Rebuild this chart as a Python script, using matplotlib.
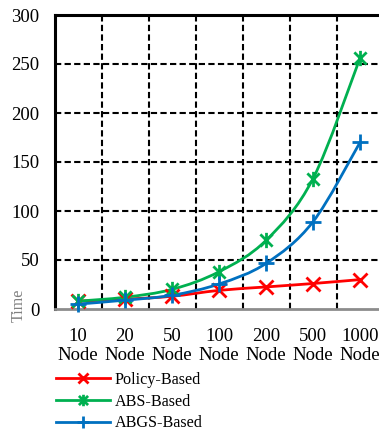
import numpy as np
import matplotlib
matplotlib.use("Agg")
import matplotlib.pyplot as plt
from matplotlib.path import Path
from matplotlib.patches import PathPatch
from matplotlib.lines import Line2D

categories = ["10\nNode", "20\nNode", "50\nNode", "100\nNode", "200\nNode", "500\nNode", "1000\nNode"]
policy_based = [8, 10, 13, 19, 22.5, 26, 30]
abs_based = [8, 12, 20, 38, 70, 133, 256]
abgs_based = [5, 9, 14, 25.5, 46.5, 89, 170]

# star marker: a cross with a vertical bar through it
star = Path([(-1, -1), (1, 1), (-1, 1), (1, -1), (0, -1.25), (0, 1.25)],
            [Path.MOVETO, Path.LINETO, Path.MOVETO, Path.LINETO, Path.MOVETO, Path.LINETO])

series = [
    ("Policy-Based", policy_based, "#FF0000", "x", 10),
    ("ABS-Based", abs_based, "#00B050", star, 11),
    ("ABGS-Based", abgs_based, "#0070C0", "+", 11),
]

plt.rcParams["font.family"] = ["Liberation Serif", "DejaVu Serif"]

fig = plt.figure(figsize=(3.79, 4.32), dpi=100)
ax = fig.add_axes([54.5 / 379, 1 - 309 / 432, 329 / 379, 294 / 432])


def smooth_path(xs, ys):
    """Catmull-Rom curve through the points, expressed as cubic Bezier segments."""
    pts = np.column_stack([xs, ys]).astype(float)
    n = len(pts)
    verts = [pts[0]]
    codes = [Path.MOVETO]
    for i in range(n - 1):
        p0 = pts[i - 1] if i > 0 else pts[i]
        p1 = pts[i]
        p2 = pts[i + 1]
        p3 = pts[i + 2] if i + 2 < n else pts[i + 1]
        c1 = p1 + (p2 - p0) / 6.0
        c2 = p2 - (p3 - p1) / 6.0
        verts += [c1, c2, p2]
        codes += [Path.CURVE4] * 3
    return Path(verts, codes)


x = np.arange(len(categories))
handles = []
for label, vals, color, marker, ms in series:
    patch = PathPatch(smooth_path(x, vals), facecolor="none", edgecolor=color,
                      lw=2.0, zorder=3, capstyle="round", joinstyle="round")
    ax.add_patch(patch)
    ax.plot(x, vals, linestyle="none", marker=marker, color=color,
            markersize=ms, markeredgewidth=2.0, zorder=4, clip_on=False)
    handles.append(Line2D([], [], color=color, lw=2.0, marker=marker,
                          markersize=ms * 0.75, markeredgewidth=2.0, label=label))

ax.set_xlim(-0.5, len(categories) - 0.5)
ax.set_ylim(0, 300)
ax.set_yticks(np.arange(0, 301, 50))
ax.set_xticks(x)
ax.set_xticklabels(categories, fontsize=13.5, linespacing=1.15)
ax.tick_params(axis="y", labelsize=13.5, length=0, pad=11)
ax.tick_params(axis="x", length=0, pad=14)

# dashed grid on category boundaries and value steps
for b in np.arange(0.5, len(categories) - 0.5, 1.0):
    ax.axvline(b, color="black", lw=1.5, ls=(0, (3, 1.6)), zorder=1)
for yv in np.arange(50, 300, 50):
    ax.axhline(yv, color="black", lw=1.5, ls=(0, (3, 1.6)), zorder=1)

for side in ["left", "top"]:
    ax.spines[side].set_linewidth(2.2)
    ax.spines[side].set_color("black")
ax.spines["right"].set_visible(False)
ax.spines["bottom"].set_linewidth(2.0)
ax.spines["bottom"].set_color("#8c8c8c")

fig.text(19 / 379, 1 - 305 / 432, "Time", rotation=90, color="#808080",
         fontsize=11.6, ha="center", va="center")

leg = fig.legend(handles=handles, loc="upper left",
                 bbox_to_anchor=(56 / 379, 1 - 372 / 432), frameon=False,
                 fontsize=11.6, handlelength=3.35, handletextpad=0.3,
                 labelspacing=0.35, borderpad=0, borderaxespad=0, numpoints=1)

fig.savefig("out.png", dpi=100)
